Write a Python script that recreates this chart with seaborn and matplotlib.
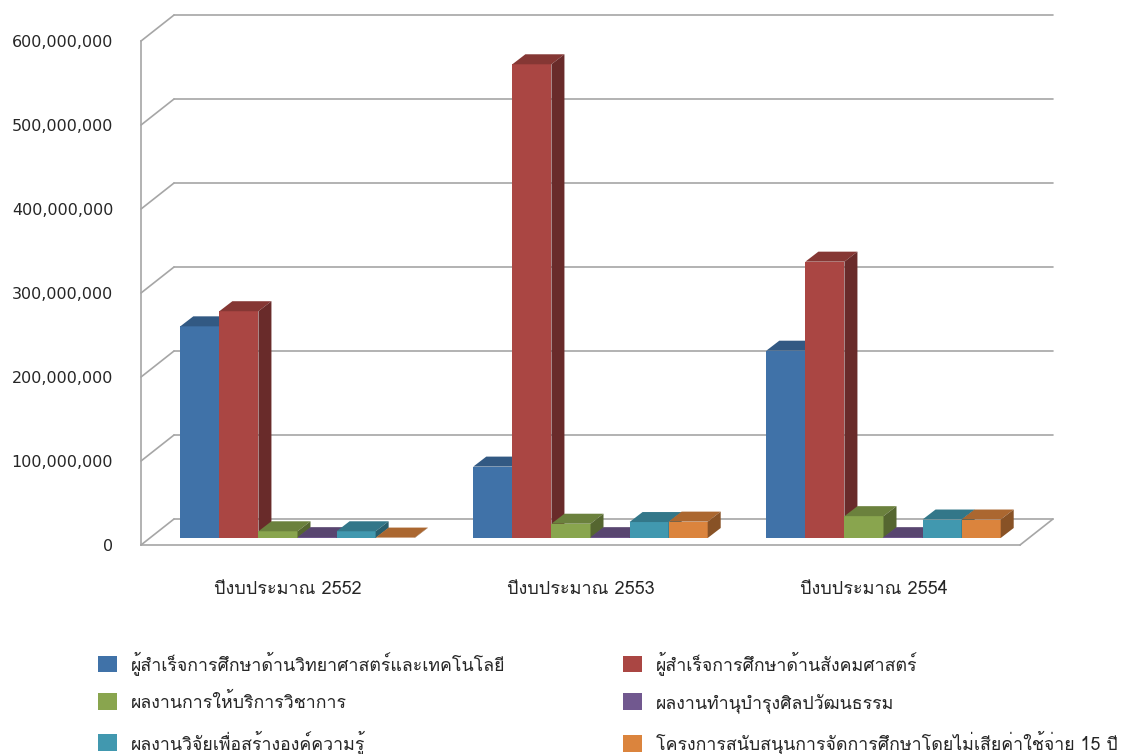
import matplotlib
matplotlib.use("Agg")
import matplotlib.pyplot as plt
import numpy as np
import pandas as pd
import seaborn as sns
from matplotlib import font_manager
from matplotlib.ft2font import FT2Font
from matplotlib.patches import Patch, Polygon
from matplotlib.ticker import FuncFormatter
from matplotlib.transforms import ScaledTranslation

# Data (baht)
years = ["ปีงบประมาณ 2552", "ปีงบประมาณ 2553", "ปีงบประมาณ 2554"]
series = [
    "ผู้สำเร็จการศึกษาด้านวิทยาศาสตร์และเทคโนโลยี",
    "ผู้สำเร็จการศึกษาด้านสังคมศาสตร์",
    "ผลงานการให้บริการวิชาการ",
    "ผลงานทำนุบำรุงศิลปวัฒนธรรม",
    "ผลงานวิจัยเพื่อสร้างองค์ความรู้",
    "โครงการสนับสนุนการจัดการศึกษาโดยไม่เสียค่าใช้จ่าย 15 ปี",
]
sci_grads = [252e6, 85e6, 223e6]
soc_grads = [270e6, 564e6, 329e6]
academic_service = [8e6, 17e6, 26e6]
culture = [1e6, 1e6, 1e6]
research = [8e6, 19e6, 22e6]
free_edu = [0.5e6, 19.5e6, 22e6]
yticks = [0, 100e6, 200e6, 300e6, 400e6, 500e6, 600e6]

colors = ["#4072A8", "#AA4643", "#89A54E", "#71588F", "#4198AF", "#DB843D"]

values = [sci_grads, soc_grads, academic_service, culture, research, free_edu]
df = pd.DataFrame(
    [(y, s, v[i]) for s, v in zip(series, values) for i, y in enumerate(years)],
    columns=["year", "series", "value"],
)

sns.set_style("white")

# find an installed font that has Thai glyphs
thai_font = None
for f in font_manager.fontManager.ttflist:
    try:
        if 0x0E01 in FT2Font(f.fname).get_charmap():
            thai_font = f.name
            break
    except Exception:
        pass
fams = [thai_font, "DejaVu Sans"] if thai_font else ["DejaVu Sans"]
plt.rcParams["font.family"] = fams

W, H = 1135, 754
fig = plt.figure(figsize=(W / 100, H / 100), dpi=100)
ax = fig.add_axes([141 / W, (H - 545) / H, (1053 - 141) / W, (545 - 15) / H])

grid_c = "#A6A6A6"
text_c = "#262626"
ymax = 631e6
bdx = 33 / 293  # wall depth in x units
bdy = 26 / 0.84 * 1e6  # wall depth in y units
xr = -0.5 + (1053 - 141) / 293

# back wall gridlines and left wall diagonals
for v in yticks:
    ax.plot([-0.5 + bdx, xr], [v + bdy, v + bdy], color=grid_c, lw=1.2, zorder=0.5, clip_on=False)
    ax.plot([-0.5, -0.5 + bdx], [v, v + bdy], color=grid_c, lw=1.2, zorder=0.5, clip_on=False)
# floor right edge
ax.plot([2.5, xr], [0, bdy], color=grid_c, lw=1.2, zorder=0.5, clip_on=False)

sns.barplot(
    data=df, x="year", y="value", hue="series", order=years, hue_order=series,
    palette=colors, saturation=1, errorbar=None, linewidth=0, legend=False, ax=ax,
)

# fake 3D: top and side faces, bars pushed into the floor a little
shift = ax.transData + ScaledTranslation(0.10, 0.07, fig.dpi_scale_trans)
dx = 13 / 293
dy = 10 / 0.84 * 1e6
bars = list(ax.patches)
for i, p in enumerate(bars):
    x, w, h = p.get_x(), p.get_width(), p.get_height()
    c = np.array(matplotlib.colors.to_rgb(p.get_facecolor()))
    z = 2 + i * 0.01
    p.set_transform(shift)
    p.set_zorder(z)
    top = Polygon([(x, h), (x + dx, h + dy), (x + w + dx, h + dy), (x + w, h)],
                  closed=True, fc=c * 0.78, ec="none", transform=shift, zorder=z)
    side = Polygon([(x + w, 0), (x + w + dx, dy), (x + w + dx, h + dy), (x + w, h)],
                   closed=True, fc=c * 0.62, ec="none", transform=shift, zorder=z)
    ax.add_patch(top)
    ax.add_patch(side)

ax.set_xlim(-0.5, xr)
ax.set_ylim(0, ymax)
ax.set_xlabel("")
ax.set_ylabel("")

ax.set_yticks(yticks)
ax.yaxis.set_major_formatter(FuncFormatter(lambda v, _: f"{v:,.0f}"))
ax.tick_params(axis="y", length=5, width=1.2, color=grid_c, pad=15, labelcolor=text_c)
for t in ax.get_yticklabels():
    t.set_fontfamily("DejaVu Sans")
    t.set_fontsize(11.5)

ax.set_xticks([0, 1, 2])
ax.set_xticklabels(years)
ax.set_xticks([-0.5, 0.5, 1.5, 2.5], minor=True)
ax.tick_params(axis="x", which="major", length=0, pad=25, labelsize=13, labelcolor=text_c)
ax.tick_params(axis="x", which="minor", length=6, width=1.2, color=grid_c, direction="out")

for s in ["top", "right"]:
    ax.spines[s].set_visible(False)
for s in ["left", "bottom"]:
    ax.spines[s].set_color(grid_c)
    ax.spines[s].set_linewidth(1.2)
ax.spines["left"].set_bounds(0, 600e6)
ax.spines["bottom"].set_bounds(-0.5, 2.5)

# legend, two columns filled row by row
handles = [Patch(fc=c, ec="none") for c in colors]
leg_kw = dict(frameon=False, loc="upper left", fontsize=12.8, handlelength=1.05, handleheight=1.05,
              handletextpad=0.8, labelspacing=1.0, borderpad=0, borderaxespad=0, labelcolor=text_c)
leg1 = fig.legend(handles[0::2], series[0::2], bbox_to_anchor=(98 / W, 1 - 651 / H), **leg_kw)
leg2 = fig.legend(handles[1::2], series[1::2], bbox_to_anchor=(623 / W, 1 - 651 / H), **leg_kw)

fig.savefig("out.png", dpi=100)
